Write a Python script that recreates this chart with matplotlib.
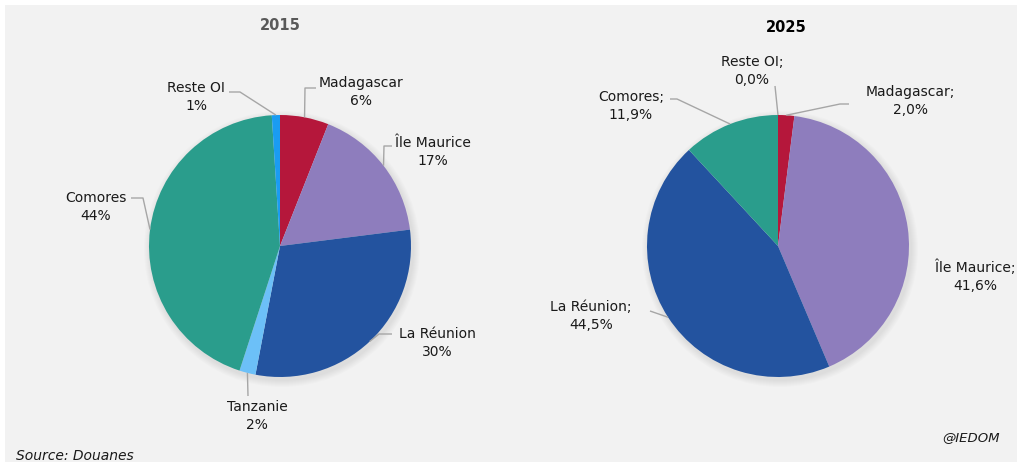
import numpy as np
import matplotlib.pyplot as plt
from matplotlib.patches import Rectangle, Circle

# data
countries = ["Madagascar", "Île Maurice", "La Réunion", "Tanzanie", "Comores", "Reste OI"]
shares_2015 = [6, 17, 30, 2, 44, 1]
countries_2025 = ["Madagascar", "Île Maurice", "La Réunion", "Comores", "Reste OI"]
shares_2025 = [2.0, 41.6, 44.5, 11.9, 0.0]

colors = {
    "Madagascar": "#b5173b",
    "Île Maurice": "#8e7dbd",
    "La Réunion": "#23539f",
    "Tanzanie": "#6cc0f8",
    "Comores": "#2a9d8c",
    "Reste OI": "#1a9cf2",
}

W, H = 1022, 467
fig = plt.figure(figsize=(W / 100, H / 100), dpi=100)
fig.patch.set_facecolor("white")
ax = fig.add_axes([0, 0, 1, 1])
ax.set_xlim(0, W)
ax.set_ylim(0, H)
ax.set_aspect("equal")
ax.axis("off")

# pixel coords (y from top) -> data coords
def P(x, y):
    return (x, H - y)

ax.add_patch(Rectangle(P(5, 462), 1012, 457, facecolor="#f2f2f2", edgecolor="none", zorder=0))

R = 131
line_col = "#a6a6a6"


def draw_pie(cx, cy, names, vals, fmt, labels):
    # soft shadow
    for i in range(7):
        ax.add_patch(Circle(P(cx + 2, cy + 3), R + 7 - i, facecolor="black",
                            alpha=0.012, edgecolor="none", zorder=1))
    wedges, _ = ax.pie(vals, colors=[colors[n] for n in names], startangle=90,
                       counterclock=False, center=P(cx, cy), radius=R,
                       wedgeprops=dict(edgecolor="none", linewidth=0))
    for w in wedges:
        w.set_zorder(2)
    ax.set_xlim(0, W)
    ax.set_ylim(0, H)
    total = sum(vals)
    cum = 0
    for name, v in zip(names, vals):
        mid = (cum + v / 2) / total * 2 * np.pi
        cum += v
        ax_x = cx + R * np.sin(mid)
        ax_y = cy - R * np.cos(mid)
        tx, ty, path = labels[name]
        ax.text(*P(tx, ty), fmt(name, v), ha="center", va="center", fontsize=10,
                color="#1a1a1a", linespacing=1.35, zorder=4)
        if path:
            pts = [(ax_x, ax_y)] + path
            xs = [p[0] for p in pts]
            ys = [H - p[1] for p in pts]
            ax.plot(xs, ys, color=line_col, lw=1, zorder=3, solid_capstyle="butt")


labels_2015 = {
    "Madagascar": (361, 92, [(305, 88), (316, 88)]),
    "Île Maurice": (433, 152, [(384, 146), (392, 146)]),
    "La Réunion": (437, 343, [(379, 334), (392, 334)]),
    "Tanzanie": (257, 416, [(248, 396)]),
    "Comores": (96, 207, [(143, 198), (131, 198)]),
    "Reste OI": (196, 97, [(240, 92), (229, 92)]),
}
labels_2025 = {
    "Madagascar": (910, 101, [(840, 104), (849, 104)]),
    "Île Maurice": (975, 276, None),
    "La Réunion": (591, 316, [(650, 311)]),
    "Comores": (631, 106, [(677, 99), (670, 99)]),
    "Reste OI": (752, 71, [(775, 86)]),
}

draw_pie(280, 246, countries, shares_2015,
         lambda n, v: f"{n}\n{v:.0f}%", labels_2015)
draw_pie(778, 246, countries_2025, shares_2025,
         lambda n, v: f"{n};\n" + f"{v:.1f}".replace(".", ",") + "%", labels_2025)

ax.text(*P(280, 25), "2015", ha="center", va="center", fontsize=10.5,
        fontweight="bold", color="#595959")
ax.text(*P(786, 27), "2025", ha="center", va="center", fontsize=10.5,
        fontweight="bold", color="black")

ax.text(*P(16, 456), "Source: Douanes", ha="left", va="center", fontsize=10,
        style="italic", color="#1a1a1a")
ax.text(*P(1000, 438), "@IEDOM", ha="right", va="center", fontsize=9.5,
        style="italic", color="#1a1a1a")

fig.savefig("out.png", dpi=100, facecolor="white")
